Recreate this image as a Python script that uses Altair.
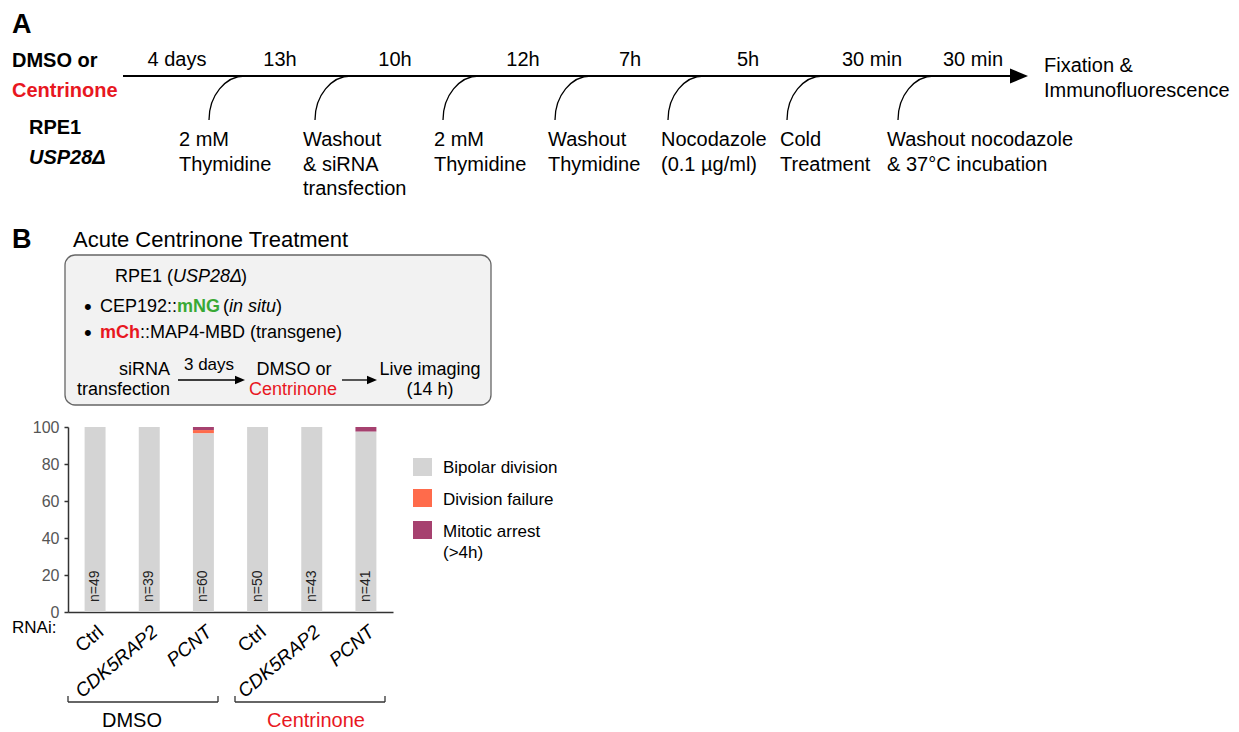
import altair as alt
import pandas as pd

# ------------------------------------------------------------------ data
# Panel B: outcome of live imaging (% of cells)
conditions = ["DMSO", "DMSO", "DMSO", "Centrinone", "Centrinone", "Centrinone"]
rnai = ["Ctrl", "CDK5RAP2", "PCNT", "Ctrl", "CDK5RAP2", "PCNT"]
n_cells = [49, 39, 60, 50, 43, 41]
bipolar = [100, 100, 96.67, 100, 100, 97.56]
division_failure = [0, 0, 1.67, 0, 0, 0]
mitotic_arrest = [0, 0, 1.67, 0, 0, 2.44]
outcomes = ["Bipolar division", "Division failure", "Mitotic arrest (>4h)"]
outcome_lines = [["Bipolar division"], ["Division failure"], ["Mitotic arrest", "(>4h)"]]
outcome_colors = ["#d4d4d4", "#ff6b4b", "#a6416f"]
y_ticks = [0, 20, 40, 60, 80, 100]

# Panel A: timeline
time_labels = ["4 days", "13h", "10h", "12h", "7h", "5h", "30 min", "30 min"]
event_labels = [
    ["2 mM", "Thymidine"],
    ["Washout", "& siRNA", "transfection"],
    ["2 mM", "Thymidine"],
    ["Washout", "Thymidine"],
    ["Nocodazole", "(0.1 µg/ml)"],
    ["Cold", "Treatment"],
    ["Washout nocodazole", "& 37°C incubation"],
]

# ------------------------------------------------------------------ layout (page pixels)
time_x = [177, 280, 395, 523, 630, 748, 872, 973]
event_x = [179, 303, 434, 548, 661, 780, 887]
curve_x = [209, 315, 443, 555, 668, 787, 898]

FONT = "Liberation Sans"
RED = "#e8171f"
GREEN = "#39a935"
W, H = 1223, 724

XPX = alt.Scale(domain=[8, 8 + W], range=[0, W], nice=False, zero=False)
YPX = alt.Scale(domain=[8, 8 + H], range=[0, H], nice=False, zero=False)

rows = []


def T(x, y, text, size, color="black", weight="normal", style="normal", align="left"):
    rows.append(dict(x=x, y=y, text=text, size=size, color=color,
                     weight=weight, style=style, align=align))


# Panel A texts
T(12, 33, "A", 27, weight="bold")
T(12, 67, "DMSO or", 20, weight="bold")
T(12, 97, "Centrinone", 20, RED, weight="bold")
T(29, 134, "RPE1", 20, weight="bold")
T(29, 164, "USP28Δ", 20, weight="bold", style="italic")
for tx, lab in zip(time_x, time_labels):
    T(tx, 66, lab, 20, align="center")
for ex, lines in zip(event_x, event_labels):
    for j, line in enumerate(lines):
        T(ex, 146 + 24.5 * j, line, 20)
T(1044, 72, "Fixation &", 20)
T(1044, 97, "Immunofluorescence", 20)

# Panel B header / box
T(12, 248, "B", 27, weight="bold")
T(73, 247, "Acute Centrinone Treatment", 22)
T(115, 282, "RPE1 (", 18)
T(173, 282, "USP28Δ", 18, style="italic")
T(241, 282, ")", 18)
T(84, 314, "•", 22)
T(100, 312, "CEP192::", 18)
T(177, 312, "mNG", 18, GREEN, weight="bold")
T(223, 312, "(", 18)
T(229, 312, "in situ", 18, style="italic")
T(276, 312, ")", 18)
T(84, 340, "•", 22)
T(100, 338, "mCh", 18, RED, weight="bold")
T(140, 338, "::MAP4-MBD (transgene)", 18)
T(170, 375, "siRNA", 18, align="right")
T(170, 395, "transfection", 18, align="right")
T(209, 370, "3 days", 17, align="center")
T(294, 375, "DMSO or", 18, align="center")
T(293, 395, "Centrinone", 18, RED, align="center")
T(430, 375, "Live imaging", 18, align="center")
T(430, 395, "(14 h)", 18, align="center")

# Bar chart surroundings
T(12, 633, "RNAi:", 17)
T(132, 727, "DMSO", 20, align="center")
T(316, 727, "Centrinone", 20, RED, align="center")
legend_base = [473, 505, 537]
for base, lines in zip(legend_base, outcome_lines):
    for j, line in enumerate(lines):
        T(443, base + 21 * j, line, 17)

texts = pd.DataFrame(rows)

text_layers = []
for (w, s, a), g in texts.groupby(["weight", "style", "align"]):
    text_layers.append(
        alt.Chart(g).mark_text(font=FONT, fontWeight=w, fontStyle=s, align=a,
                               baseline="alphabetic").encode(
            x=alt.X("x:Q", scale=XPX, axis=None),
            y=alt.Y("y:Q", scale=YPX, axis=None),
            text="text:N",
            color=alt.Color("color:N", scale=None),
            size=alt.Size("size:Q", scale=None),
        )
    )

# lines
rule_rows = [
    dict(x=123, x2=1012, y=76, y2=76, sw=2.2, color="black"),
    dict(x=178, x2=238, y=380, y2=380, sw=1.3, color="black"),
    dict(x=342, x2=370, y=380, y2=380, sw=1.3, color="black"),
    dict(x=68, x2=218, y=702, y2=702, sw=1.3, color="#333"),
    dict(x=68, x2=68, y=696, y2=702, sw=1.3, color="#333"),
    dict(x=218, x2=218, y=696, y2=702, sw=1.3, color="#333"),
    dict(x=235, x2=385, y=702, y2=702, sw=1.3, color="#333"),
    dict(x=235, x2=235, y=696, y2=702, sw=1.3, color="#333"),
    dict(x=385, x2=385, y=696, y2=702, sw=1.3, color="#333"),
]
rules = alt.Chart(pd.DataFrame(rule_rows)).mark_rule().encode(
    x=alt.X("x:Q", scale=XPX, axis=None),
    x2="x2:Q",
    y=alt.Y("y:Q", scale=YPX, axis=None),
    y2="y2:Q",
    strokeWidth=alt.StrokeWidth("sw:Q", scale=None),
    color=alt.Color("color:N", scale=None),
)

head_shape = "M -1 -0.42 L 0 0 L -1 0.42 Z"
heads = alt.Chart(pd.DataFrame([
    dict(x=1028, y=76, s=1296),
    dict(x=245, y=380, s=400),
    dict(x=377, y=380, s=400),
])).mark_point(shape=head_shape, filled=True, opacity=1, color="black", strokeWidth=0).encode(
    x=alt.X("x:Q", scale=XPX, axis=None),
    y=alt.Y("y:Q", scale=YPX, axis=None),
    size=alt.Size("s:Q", scale=None),
)

curve_shape = "M 0 1 C 0 0.448 0.367 0 0.82 0"
curves = alt.Chart(pd.DataFrame({"x": curve_x, "y": [76] * len(curve_x)})).mark_point(
    shape=curve_shape, filled=False, opacity=1, color="black", strokeWidth=1.3, size=7744
).encode(
    x=alt.X("x:Q", scale=XPX, axis=None),
    y=alt.Y("y:Q", scale=YPX, axis=None),
)

box = alt.Chart(pd.DataFrame([dict(x=65, x2=491, y=255, y2=405)])).mark_rect(
    cornerRadius=10, fill="#f2f2f2", stroke="#666", strokeWidth=1.3
).encode(
    x=alt.X("x:Q", scale=XPX, axis=None), x2="x2:Q",
    y=alt.Y("y:Q", scale=YPX, axis=None), y2="y2:Q",
)

legend_sq = alt.Chart(pd.DataFrame({
    "x": [413] * 3, "x2": [432] * 3,
    "y": [458, 489, 521], "y2": [476, 507, 539],
    "color": outcome_colors,
})).mark_rect().encode(
    x=alt.X("x:Q", scale=XPX, axis=None), x2="x2:Q",
    y=alt.Y("y:Q", scale=YPX, axis=None), y2="y2:Q",
    color=alt.Color("color:N", scale=None),
)

annot = alt.layer(box, legend_sq, rules, heads, curves, *text_layers)

# ------------------------------------------------------------------ bars
keys = [f"{c}|{r}" for c, r in zip(conditions, rnai)]
bar_rows = []
for k, b, f, m in zip(keys, bipolar, division_failure, mitotic_arrest):
    for i, (o, v) in enumerate(zip(outcomes, [b, f, m])):
        bar_rows.append({"key": k, "outcome": o, "value": v, "ord": i})
bars_df = pd.DataFrame(bar_rows)

XB = alt.Scale(domain=keys, range=[60, 385], paddingInner=0.613, paddingOuter=0.3065)
YB = alt.Scale(domain=[0, 100], range=[604, 419], nice=False, zero=True)

x_axis = alt.Axis(
    orient="bottom", offset=-(H - 604), title=None, ticks=False,
    domainColor="#333", domainWidth=1.5,
    labelAngle=320, labelAlign="right", labelBaseline="top", labelPadding=10,
    labelFont=FONT, labelFontSize=19, labelColor="black",
    labelExpr="split(datum.value, '|')[1]",
    labelFontStyle={"condition": {"test": "split(datum.value, '|')[1] != 'Ctrl'", "value": "italic"},
                    "value": "normal"},
    labelOverlap=False,
)
y_axis = alt.Axis(
    orient="left", offset=-60, title=None, values=y_ticks, tickSize=4,
    tickColor="#333", tickWidth=1.5, domainColor="#333", domainWidth=1.5,
    labelFont=FONT, labelFontSize=16, labelColor="#555", labelPadding=5, grid=False,
)

bars = alt.Chart(bars_df).mark_bar().encode(
    x=alt.X("key:N", scale=XB, axis=x_axis),
    y=alt.Y("value:Q", scale=YB, axis=y_axis, stack="zero"),
    color=alt.Color("outcome:N", scale=alt.Scale(domain=outcomes, range=outcome_colors), legend=None),
    order=alt.Order("ord:Q"),
)

n_df = pd.DataFrame({"key": keys, "label": [f"n={n}" for n in n_cells], "base": [0] * len(keys)})
ntext = alt.Chart(n_df).mark_text(
    angle=270, align="left", baseline="middle", dx=10, font=FONT, fontSize=14, color="#222"
).encode(
    x=alt.X("key:N", scale=XB, axis=x_axis),
    y=alt.Y("base:Q", scale=YB, axis=y_axis),
    text="label:N",
)

bar_layer = alt.layer(bars, ntext)

chart = alt.layer(annot, bar_layer).resolve_scale(
    x="independent", y="independent", color="independent", size="independent"
).properties(
    width=W, height=H, padding=0, autosize=alt.AutoSizeParams(type="none")
).configure(font=FONT).configure_view(strokeWidth=0, stroke=None)

chart.save("out.html", embed_options={"renderer": "svg", "actions": False})
